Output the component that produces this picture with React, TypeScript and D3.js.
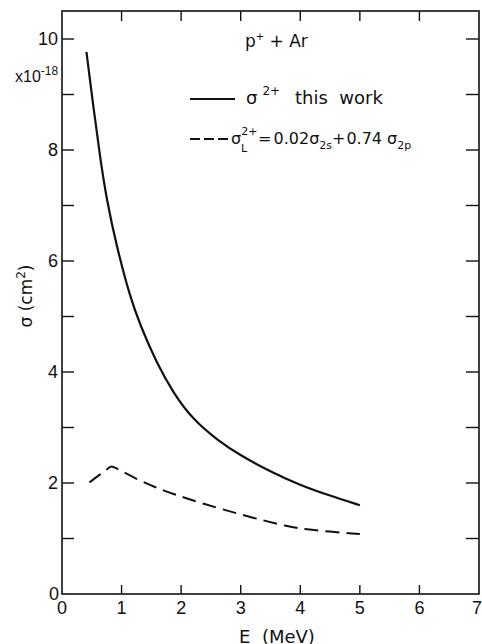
import React from "react";
import * as d3 from "d3";

const solidE = [0.41, 0.526, 0.638, 0.75, 0.918, 1.14, 1.31, 1.59, 1.87, 2.2, 2.6, 3.0, 3.55, 4.0, 4.5, 5.0];
const solidSigma = [9.77, 8.78, 7.88, 7.1, 6.26, 5.36, 4.85, 4.16, 3.62, 3.14, 2.78, 2.49, 2.18, 1.96, 1.77, 1.6];
const dashedE = [0.46, 0.83, 0.83, 1.29, 1.57, 1.85, 2.35, 3.04, 3.83, 4.19, 5.0];
const dashedSigma = [2.01, 2.31, 2.31, 2.05, 1.92, 1.81, 1.63, 1.42, 1.2, 1.15, 1.08];
const xTicks = [0, 1, 2, 3, 4, 5, 6, 7];
const yMajor = [0, 2, 4, 6, 8, 10];
const yMinor = [1, 3, 5, 7, 9];

const W = 482, H = 644;
const left = 62, right = 479, top = 11, bottom = 594;
const FONT = "'Liberation Sans', Arial, sans-serif";
const LFONT = "'DejaVu Sans', sans-serif";

export default function App() {
  const x = d3.scaleLinear().domain([0, 7]).range([left, right]);
  const y = d3.scaleLinear().domain([0, 10]).range([bottom, bottom - 555]);
  const line = d3
    .line<[number, number]>()
    .x((d) => x(d[0]))
    .y((d) => y(d[1]))
    .curve(d3.curveBasis);
  const solid = line(solidE.map((e, i) => [e, solidSigma[i]] as [number, number])) || "";
  const dashed = line(dashedE.map((e, i) => [e, dashedSigma[i]] as [number, number])) || "";
  const yTicksAll = [...yMajor, ...yMinor].filter((v) => v > 0);

  return (
    <svg
      width={W}
      height={H}
      style={{ position: "absolute", left: 0, top: 0, background: "#fff" }}
      fontFamily={FONT}
    >
      <rect x={0} y={0} width={W} height={H} fill="#fff" />
      <rect x={left} y={top} width={right - left} height={bottom - top} fill="none" stroke="#111" strokeWidth={1.6} />
      {yTicksAll.map((v) => (
        <g key={"yt" + v}>
          <line x1={left} x2={left + 12} y1={y(v)} y2={y(v)} stroke="#111" strokeWidth={1.4} />
          <line x1={right} x2={right - 13} y1={y(v)} y2={y(v)} stroke="#111" strokeWidth={1.4} />
        </g>
      ))}
      {xTicks.filter((t) => t > 0 && t < 7).map((t) => (
        <g key={"xt" + t}>
          <line x1={x(t)} x2={x(t)} y1={bottom} y2={bottom - 9} stroke="#111" strokeWidth={1.4} />
          <line x1={x(t)} x2={x(t)} y1={top} y2={top + 10} stroke="#111" strokeWidth={1.4} />
        </g>
      ))}
      {yMajor.map((v) => (
        <text key={"yl" + v} x={v === 0 ? 59 : 58} y={y(v)} dy="0.36em" textAnchor="end" fontSize={18} fill="#111">
          {v}
        </text>
      ))}
      {xTicks.map((t) => (
        <text key={"xl" + t} x={t === 7 ? x(t) - 2 : x(t)} y={608} dy="0.36em" textAnchor="middle" fontSize={18} fill="#111">
          {t}
        </text>
      ))}
      <text x={15} y={82} fontSize={16} fill="#111">
        x10<tspan dy={-7} fontSize={12}>-18</tspan>
      </text>
      <text transform="translate(32,296) rotate(-90)" textAnchor="middle" fontSize={17} fill="#111" fontFamily={LFONT}>
        σ (cm<tspan dy={-7} fontSize={12}>2</tspan><tspan dy={7}>)</tspan>
      </text>
      <text x={277} y={643} textAnchor="middle" fontSize={18} fill="#111" fontFamily={LFONT} xmlSpace="preserve">
        E  (MeV)
      </text>
      <path d={solid} fill="none" stroke="#111" strokeWidth={2.2} />
      <path d={dashed} fill="none" stroke="#111" strokeWidth={2} strokeDasharray="14,7" />
      <g fontFamily={LFONT} fill="#111">
        <text x={245} y={47} fontSize={17}>
          p<tspan dy={-7} fontSize={10}>+</tspan><tspan dy={7}> + Ar</tspan>
        </text>

        <line x1={190} x2={235} y1={99} y2={99} stroke="#111" strokeWidth={2.2} />
        <text x={246} y={104} fontSize={18}>
          σ<tspan dx={5} dy={-9} fontSize={12}>2+</tspan>
        </text>
        <text x={295} y={104} fontSize={18} xmlSpace="preserve">this  work</text>

        <line x1={190} x2={228} y1={139} y2={139} stroke="#111" strokeWidth={2} strokeDasharray="10,4" />
        <text x={231} y={144} fontSize={16}>
          σ<tspan dy={-9} fontSize={11}>2+</tspan>
          <tspan dx={-16.4} dy={17} fontSize={11}>L</tspan>
          <tspan dx={11} dy={-8}>=</tspan>
          <tspan dx={2}>0.02σ</tspan>
          <tspan dy={5} fontSize={11}>2s</tspan>
          <tspan dy={-5}>+</tspan>
          <tspan dx={1}>0.74 σ</tspan>
          <tspan dy={5} fontSize={11}>2p</tspan>
        </text>
      </g>
    </svg>
  );
}
